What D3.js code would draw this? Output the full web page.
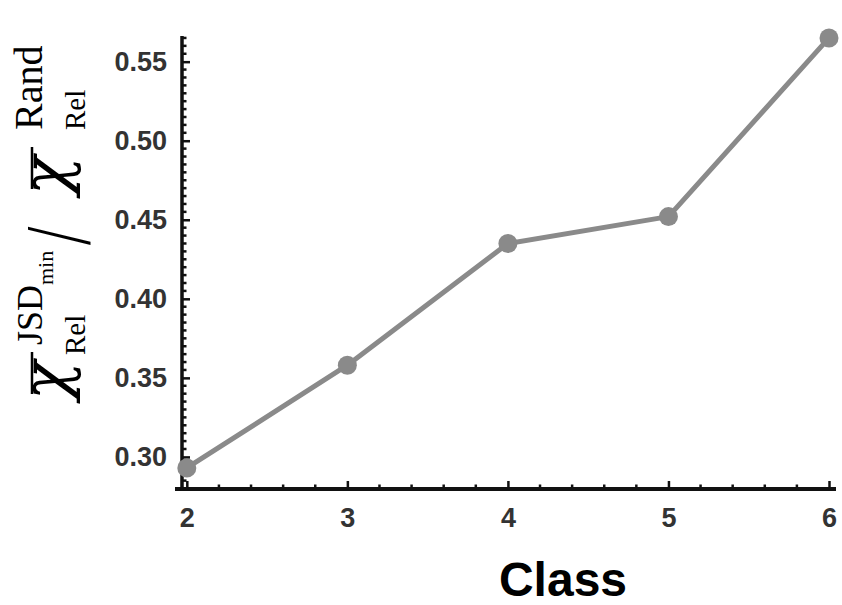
<!DOCTYPE html>
<html>
<head>
<meta charset="utf-8">
<script src="https://cdn.jsdelivr.net/npm/d3@7"></script>
<style>
  html, body { margin: 0; padding: 0; background: #fff; }
  svg { display: block; }
</style>
</head>
<body>
<svg id="chart" width="842" height="605"></svg>
<script>
// ---- data ----
const classes = [2, 3, 4, 5, 6];
const ratioValues = [0.293, 0.358, 0.435, 0.452, 0.565];
const yTickValues = [0.30, 0.35, 0.40, 0.45, 0.50, 0.55];
const yTickLabels = ["0.30", "0.35", "0.40", "0.45", "0.50", "0.55"];
const xTickValues = [2, 3, 4, 5, 6];
const xTickLabels = ["2", "3", "4", "5", "6"];
const xAxisTitle = "Class";

const svg = d3.select("#chart");

const x = d3.scaleLinear().domain([1.97, 6.0]).range([182, 829]);
const y = d3.scaleLinear().domain([0.2797, 0.5675]).range([489, 34]);

const axisColor = "#111";
const labelColor = "#333";
const seriesColor = "#8a8a8a";

// minor ticks
const xMinor = d3.range(2, 6.0001, 0.2).filter(v => Math.abs(v - Math.round(v)) > 1e-6);
const yMinor = d3.range(0.285, 0.5651, 0.005).filter(v => Math.abs(v * 20 - Math.round(v * 20)) > 1e-6);

// X axis (ticks pointing inward/up)
const xAxis = d3.axisBottom(x).tickValues(xTickValues).tickSize(-8).tickFormat((d, i) => xTickLabels[i]).tickPadding(19);
const gx = svg.append("g").attr("transform", `translate(0,${y.range()[0]})`).call(xAxis);
gx.select(".domain").remove();
gx.selectAll(".tick line").attr("stroke", axisColor).attr("stroke-width", 2.5);
gx.selectAll(".tick text")
  .attr("fill", labelColor)
  .style("font-family", "'Liberation Sans', Arial, sans-serif")
  .style("font-weight", "bold")
  .style("font-size", "27px");
gx.selectAll(".minor").data(xMinor).enter().append("line")
  .attr("x1", d => x(d)).attr("x2", d => x(d)).attr("y1", 0).attr("y2", -4.5)
  .attr("stroke", axisColor).attr("stroke-width", 2.5);
gx.append("line").attr("x1", 175).attr("x2", 836).attr("y1", 0).attr("y2", 0)
  .attr("stroke", axisColor).attr("stroke-width", 4);

// Y axis
const yAxis = d3.axisLeft(y).tickValues(yTickValues).tickSize(-8).tickFormat((d, i) => yTickLabels[i]).tickPadding(15);
const gy = svg.append("g").attr("transform", `translate(${x.range()[0]},0)`).call(yAxis);
gy.select(".domain").remove();
gy.selectAll(".tick line").attr("stroke", axisColor).attr("stroke-width", 2.5);
gy.selectAll(".tick text")
  .attr("fill", labelColor)
  .style("font-family", "'Liberation Sans', Arial, sans-serif")
  .style("font-weight", "bold")
  .style("font-size", "27px");
gy.selectAll(".minor").data(yMinor).enter().append("line")
  .attr("y1", d => y(d)).attr("y2", d => y(d)).attr("x1", 0).attr("x2", 4.5)
  .attr("stroke", axisColor).attr("stroke-width", 2.5);
gy.append("line").attr("x1", 0).attr("x2", 0).attr("y1", 36).attr("y2", 491)
  .attr("stroke", axisColor).attr("stroke-width", 3.5);

// series
const pts = classes.map((c, i) => ({ c, v: ratioValues[i] }));
const line = d3.line().x(d => x(d.c)).y(d => y(d.v));
svg.append("path").datum(pts).attr("d", line)
  .attr("fill", "none").attr("stroke", seriesColor).attr("stroke-width", 5).attr("stroke-linejoin", "round");
svg.selectAll(".pt").data(pts).enter().append("circle")
  .attr("cx", d => x(d.c)).attr("cy", d => y(d.v)).attr("r", 9.5)
  .attr("fill", seriesColor);

// X title
svg.append("text").attr("x", 563).attr("y", 596).attr("text-anchor", "middle")
  .style("font-family", "'Liberation Sans', Arial, sans-serif")
  .style("font-weight", "bold").style("font-size", "48px").attr("fill", "#000")
  .text(xAxisTitle);

// Y title (rotated math expression)
const serif = "'Liberation Serif', 'Times New Roman', serif";
const gl = svg.append("g").attr("transform", "translate(67,402) rotate(-90)");
function t(str, xx, yy, size, italic, fam) {
  return gl.append("text").attr("x", xx).attr("y", yy)
    .style("font-family", fam || serif).style("font-size", size + "px")
    .style("font-style", italic ? "italic" : "normal").attr("fill", "#000").text(str);
}
const chiFam = "'DejaVu Serif', serif";
// first chi
t("χ", 2, 0, 64, true, chiFam);
gl.append("line").attr("x1", 8).attr("x2", 50).attr("y1", -35).attr("y2", -35).attr("stroke", "#000").attr("stroke-width", 2.5);
t("JSD", 57, -25, 36, false);
t("min", 117, -14, 22, false);
t("Rel", 47, 18, 29, false);
// slash (stretched across the text line)
gl.append("g").attr("transform", "translate(157,22) scale(1,1.4)")
  .append("text").attr("x", 0).attr("y", 0)
  .style("font-family", serif).style("font-size", "66px").attr("fill", "#000").text("/");
// second chi
t("χ", 207, 0, 64, true, chiFam);
gl.append("line").attr("x1", 213).attr("x2", 255).attr("y1", -35).attr("y2", -35).attr("stroke", "#000").attr("stroke-width", 2.5);
t("Rand", 272, -25, 40, false);
t("Rel", 272, 18, 29, false);
</script>
</body>
</html>
